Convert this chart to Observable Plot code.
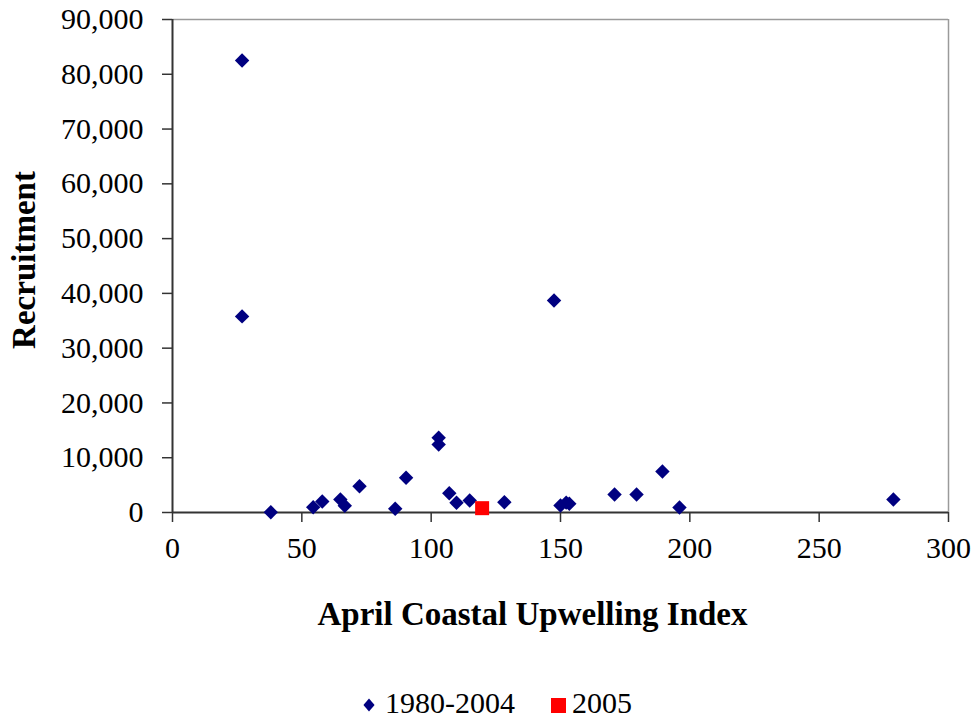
<!DOCTYPE html>
<html>
<head>
<meta charset="utf-8">
<script src="https://cdn.jsdelivr.net/npm/d3@7"></script>
<script src="https://cdn.jsdelivr.net/npm/@observablehq/plot@0.6"></script>
<style>
  html, body { margin: 0; padding: 0; background: #fff; }
  #chart { width: 974px; }
  svg { display: block; }
</style>
</head>
<body>
<div id="chart"></div>
<script>
// ---- data ----
const upwelling8004 = [26.9, 26.9, 147.5, 38.0, 54.4, 57.9, 64.9, 66.6, 72.3, 86.1, 90.3, 102.9, 102.9, 107.0, 109.8, 114.9, 128.3, 150.0, 152.2, 153.4, 170.9, 179.4, 189.4, 196.0, 278.7];
const recruit8004   = [82500, 35800, 38700, 50, 970, 2000, 2370, 1220, 4800, 680, 6330, 13640, 12410, 3520, 1770, 2190, 1880, 1280, 1800, 1600, 3290, 3290, 7480, 910, 2370];
const upwelling2005 = [119.7];
const recruit2005   = [790];
const xTicks = [0, 50, 100, 150, 200, 250, 300];
const yTicks = [0, 10000, 20000, 30000, 40000, 50000, 60000, 70000, 80000, 90000];
const seriesNames = ["1980-2004", "2005"];
const xTitle = "April Coastal Upwelling Index";
const yTitle = "Recruitment";

const pts1 = upwelling8004.map((x, i) => ({x, y: recruit8004[i]}));
const pts2 = upwelling2005.map((x, i) => ({x, y: recruit2005[i]}));

const font = "Liberation Serif, 'Times New Roman', serif";
const navy = "#000080";
const red = "#ff0000";

const plot = Plot.plot({
  width: 974,
  height: 674,
  marginLeft: 172,
  marginRight: 26,
  marginTop: 19,
  marginBottom: 162,
  style: {fontFamily: font, fontSize: "30px", color: "#000", background: "#fff"},
  x: {domain: [0, 300]},
  y: {domain: [0, 90000]},
  marks: [
    Plot.ruleY([90000], {stroke: "#9a9a9a", strokeWidth: 1.5}),
    Plot.ruleX([300], {stroke: "#9a9a9a", strokeWidth: 1.5}),
    Plot.axisX({ticks: xTicks, tickSize: 10, tickPadding: 14, tickFormat: d3.format("d"), fontSize: 30, label: null, stroke: "#333", strokeWidth: 1.5}),
    Plot.axisY({ticks: yTicks, tickSize: 10, tickPadding: 19, tickFormat: d3.format(","), fontSize: 30, label: null, stroke: "#333", strokeWidth: 1.5}),
    Plot.ruleX([0], {stroke: "#333", strokeWidth: 2}),
    Plot.ruleY([0], {stroke: "#333", strokeWidth: 2}),
    Plot.dot(pts1, {x: "x", y: "y", symbol: "diamond2", r: 6.5, fill: navy, stroke: "none"}),
    Plot.dot(pts2, {x: "x", y: "y", symbol: "square", r: 7.9, fill: red, stroke: "none"}),
    Plot.text([xTitle], {frameAnchor: "bottom", dx: -28, dy: 112, lineAnchor: "bottom", fontSize: 33, fontWeight: "bold", fill: "#000"}),
    Plot.text([yTitle], {frameAnchor: "left", dx: -138, dy: -6, rotate: -90, textAnchor: "middle", lineAnchor: "bottom", fontSize: 33, fontWeight: "bold", fill: "#000"})
  ]
});
document.getElementById("chart").appendChild(plot);

// ---- legend below the plot ----
const legend = d3.select("#chart").append("svg")
  .attr("width", 974).attr("height", 47)
  .style("font-family", font);
legend.append("path")
  .attr("d", d3.symbol(d3.symbolDiamond2, 110)())
  .attr("transform", "translate(369,31) scale(0.85,1)")
  .attr("fill", navy);
legend.append("text").attr("x", 385).attr("y", 39).attr("font-size", 30).text(seriesNames[0]);
legend.append("rect").attr("x", 551).attr("y", 24).attr("width", 15).attr("height", 15).attr("fill", red);
legend.append("text").attr("x", 572).attr("y", 39).attr("font-size", 30).text(seriesNames[1]);
</script>
</body>
</html>
